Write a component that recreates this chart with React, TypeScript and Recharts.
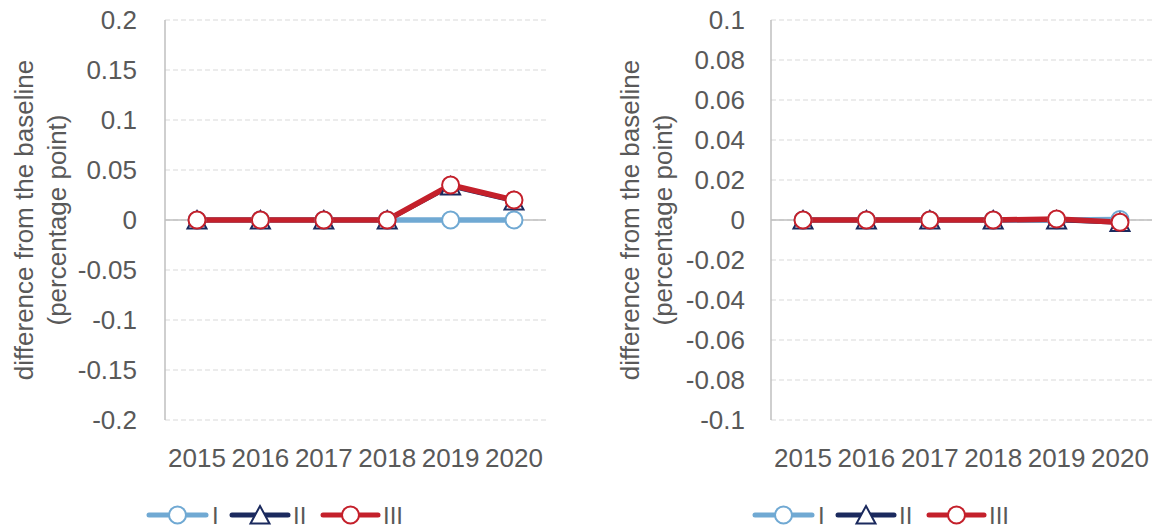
import React from 'react';
import { LineChart, Line, XAxis, YAxis, CartesianGrid, ReferenceLine, Legend } from 'recharts';

// years on the category axis
const years = ['2015', '2016', '2017', '2018', '2019', '2020'];

// left panel
const leftI = [0, 0, 0, 0, 0, 0];
const leftII = [0, 0, 0, 0, 0.034, 0.019];
const leftIII = [0, 0, 0, 0, 0.035, 0.02];
const leftTicks = [-0.2, -0.15, -0.1, -0.05, 0, 0.05, 0.1, 0.15, 0.2];

// right panel
const rightI = [0, 0, 0, 0, 0, 0.0003];
const rightII = [0, 0, 0, 0, 0, -0.0012];
const rightIII = [0, 0, 0, 0, 0.0005, -0.0011];
const rightTicks = [-0.1, -0.08, -0.06, -0.04, -0.02, 0, 0.02, 0.04, 0.06, 0.08, 0.1];

const seriesNames = ['I', 'II', 'III'];
const seriesColors = ['#70A9D3', '#1B2A5E', '#C4202B'];
const yTitle = ['difference from the baseline', '(percentage point)'];

const FONT = '"Liberation Sans", Arial, sans-serif';
const TEXT = '#595959';
const W = 551;
const H = 529;

const fmt = (v: number) => String(Number(v.toFixed(3)));

const CircleDot = (color: string) => (props: any) => {
  const { cx, cy } = props;
  if (cx == null || cy == null) return <g />;
  return <circle cx={cx} cy={cy} r={8.5} fill="#fff" stroke={color} strokeWidth={2} />;
};

const TriangleDot = (color: string) => (props: any) => {
  const { cx, cy } = props;
  if (cx == null || cy == null) return <g />;
  return (
    <path
      d={`M${cx},${cy - 9} L${cx + 9.5},${cy + 8.5} L${cx - 9.5},${cy + 8.5} Z`}
      fill="#fff"
      stroke={color}
      strokeWidth={2}
    />
  );
};

const YTitle = ({ viewBox }: any) => {
  const cy = viewBox.y + viewBox.height / 2;
  const xs = [viewBox.x + 24, viewBox.x + 57];
  return (
    <g>
      {yTitle.map((t, i) => (
        <text
          key={t}
          x={xs[i]}
          y={cy}
          dy="0.35em"
          transform={`rotate(-90, ${xs[i]}, ${cy})`}
          textAnchor="middle"
          fill={TEXT}
          fontSize={26}
          fontFamily={FONT}
        >
          {t}
        </text>
      ))}
    </g>
  );
};

const LegendBox = () => {
  const items = [
    { x0: 149, x1: 206, text: 212 },
    { x0: 232, x1: 288, text: 293 },
    { x0: 323, x1: 378, text: 383 },
  ];
  const y = 35;
  return (
    <svg width={W} height={49} style={{ display: 'block' }}>
      {items.map((it, i) => {
        const c = seriesColors[i];
        const mx = (it.x0 + it.x1) / 2;
        return (
          <g key={i}>
            <line x1={it.x0} y1={y} x2={it.x1} y2={y} stroke={c} strokeWidth={5} strokeLinecap="round" />
            {i === 1 ? (
              <path d={`M${mx},${y - 9} L${mx + 9.5},${y + 8.5} L${mx - 9.5},${y + 8.5} Z`} fill="#fff" stroke={c} strokeWidth={2} />
            ) : (
              <circle cx={mx} cy={y} r={8.5} fill="#fff" stroke={c} strokeWidth={2} />
            )}
            <text x={it.text} y={y + 8.5} fill={TEXT} fontSize={24} fontFamily={FONT}>
              {seriesNames[i]}
            </text>
          </g>
        );
      })}
    </svg>
  );
};

type PanelProps = {
  a: number[];
  b: number[];
  c: number[];
  ticks: number[];
  tickGap: number;
};

const Panel = ({ a, b, c, ticks, tickGap }: PanelProps) => {
  const data = years.map((y, i) => ({ year: y, I: a[i], II: b[i], III: c[i] }));
  const lo = ticks[0];
  const hi = ticks[ticks.length - 1];
  return (
    <LineChart width={W} height={H} data={data} margin={{ top: 20, right: 5, left: 0, bottom: 0 }}>
      <CartesianGrid vertical={false} stroke="#D9D9D9" strokeDasharray="5 3" />
      <XAxis
        dataKey="year"
        axisLine={false}
        tickLine={false}
        height={60}
        tickMargin={23}
        padding={{ left: 32, right: 32 }}
        tick={{ fill: TEXT, fontSize: 26, fontFamily: FONT }}
        interval={0}
      />
      <YAxis
        type="number"
        domain={[lo, hi]}
        ticks={ticks}
        width={165}
        axisLine={{ stroke: '#BFBFBF', strokeWidth: 1.5 }}
        tickLine={false}
        tickMargin={tickGap}
        tickFormatter={fmt}
        tick={{ fill: TEXT, fontSize: 26, fontFamily: FONT }}
        allowDataOverflow
        label={{ content: (p: any) => <YTitle viewBox={p.viewBox} /> }}
      />
      <ReferenceLine y={0} stroke="#BFBFBF" strokeWidth={1.5} />
      <Legend
        verticalAlign="bottom"
        height={49}
        wrapperStyle={{ left: 0, width: W }}
        content={() => <LegendBox />}
      />
      <Line
        dataKey="I"
        stroke={seriesColors[0]}
        strokeWidth={5.5}
        dot={CircleDot(seriesColors[0])}
        activeDot={false}
        isAnimationActive={false}
      />
      <Line
        dataKey="II"
        stroke={seriesColors[1]}
        strokeWidth={4.5}
        dot={TriangleDot(seriesColors[1])}
        activeDot={false}
        isAnimationActive={false}
      />
      <Line
        dataKey="III"
        stroke={seriesColors[2]}
        strokeWidth={5.5}
        dot={CircleDot(seriesColors[2])}
        activeDot={false}
        isAnimationActive={false}
      />
    </LineChart>
  );
};

export default function App() {
  return (
    <div style={{ position: 'absolute', left: 0, top: 0, width: 1155, height: 529, background: '#fff' }}>
      <div style={{ position: 'absolute', left: 0, top: 0 }}>
        <Panel a={leftI} b={leftII} c={leftIII} ticks={leftTicks} tickGap={22} />
      </div>
      <div style={{ position: 'absolute', left: 606, top: 0 }}>
        <Panel a={rightI} b={rightII} c={rightIII} ticks={rightTicks} tickGap={20} />
      </div>
    </div>
  );
}
